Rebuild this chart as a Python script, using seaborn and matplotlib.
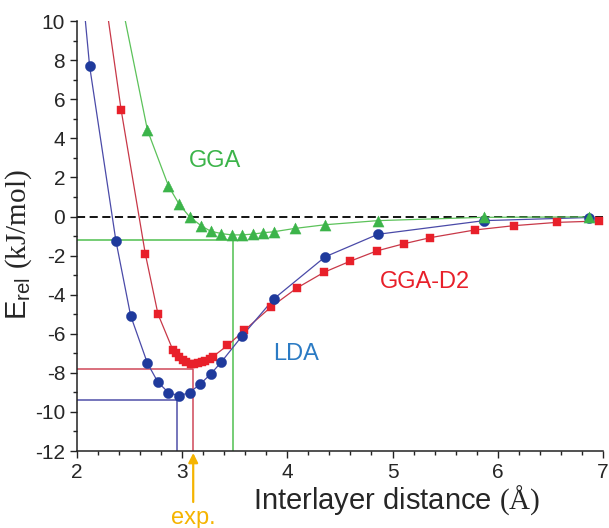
# Binding energy curves vs interlayer distance (LDA / GGA / GGA-D2)
import numpy as np
import pandas as pd
import matplotlib
matplotlib.use("Agg")
import matplotlib.pyplot as plt
import seaborn as sns

sns.set_style("ticks")
plt.rcParams['font.family'] = ['Liberation Sans', 'DejaVu Sans']
plt.rcParams['mathtext.fontset'] = 'custom'
plt.rcParams['mathtext.rm'] = 'Liberation Serif'
plt.rcParams['mathtext.sf'] = 'Liberation Sans'
plt.rcParams['axes.unicode_minus'] = False

# LDA points (blue circles)
lda_x = [2.12, 2.37, 2.51, 2.67, 2.77, 2.87, 2.97, 3.07, 3.17, 3.27, 3.37,
         3.57, 3.87, 4.36, 4.86, 5.87, 6.87]
lda_y = [7.70, -1.24, -5.07, -7.51, -8.48, -9.01, -9.17, -9.01, -8.58, -8.07,
         -7.46, -6.11, -4.22, -2.06, -0.91, -0.21, -0.05]

# GGA points (green triangles)
gga_x = [2.67, 2.87, 2.97, 3.07, 3.18, 3.27, 3.37, 3.47, 3.57, 3.67, 3.77,
         3.87, 4.07, 4.36, 4.86, 5.87, 6.87]
gga_y = [4.42, 1.56, 0.64, -0.01, -0.47, -0.75, -0.87, -0.94, -0.94, -0.90,
         -0.83, -0.78, -0.61, -0.42, -0.21, -0.04, -0.02]

# GGA-D2 points (red squares)
d2_x = [2.42, 2.65, 2.77, 2.91, 2.94, 2.97, 3.005, 3.04, 3.08, 3.115, 3.15,
        3.19, 3.22, 3.26, 3.29, 3.43, 3.59, 3.84, 4.09, 4.35, 4.60, 4.85,
        5.11, 5.36, 5.78, 6.15, 6.56, 6.96]
d2_y = [5.45, -1.92, -4.99, -6.81, -6.99, -7.17, -7.34, -7.46, -7.54, -7.56,
        -7.52, -7.46, -7.38, -7.28, -7.18, -6.60, -5.83, -4.65, -3.66, -2.85,
        -2.28, -1.76, -1.39, -1.08, -0.69, -0.47, -0.30, -0.23]

# where each fitted curve leaves the top of the frame
lda_top = (2.08, 10.0)
d2_top = (2.30, 10.0)
gga_top = (2.46, 10.0)

# equilibrium (minimum) markers: distance, energy
lda_min = (2.95, -9.39)
d2_min = (3.105, -7.80)
gga_min = (3.483, -1.20)
exp_x = 3.105

df_lda = pd.DataFrame({'d': lda_x, 'E': lda_y})
df_gga = pd.DataFrame({'d': gga_x, 'E': gga_y})
df_d2 = pd.DataFrame({'d': d2_x, 'E': d2_y})

c_lda_m, c_lda_l, c_lda_t = '#1f3a9c', '#4a4aa8', '#2b7bc4'
c_d2_m, c_d2_l = '#e8202a', '#c83848'
c_gga_m, c_gga_l = '#3cb44a', '#5cc25a'

fig, ax = plt.subplots(figsize=(6.09, 5.28), dpi=100)
fig.subplots_adjust(left=0.1264, right=0.990, bottom=0.1458, top=0.960)

# zero line
ax.axhline(0, color='black', lw=1.3, ls=(0, (4.5, 2.5)), zorder=1)

# minimum guide lines
for (mx, my), col in [(lda_min, '#5050a8'), (d2_min, '#d04858'), (gga_min, '#50c050')]:
    ax.plot([2, mx, mx], [my, my, -12], color=col, lw=1.1, zorder=2)

# curves
for df, top, col in [(df_d2, d2_top, c_d2_l), (df_lda, lda_top, c_lda_l), (df_gga, gga_top, c_gga_l)]:
    curve = pd.concat([pd.DataFrame({'d': [top[0]], 'E': [top[1]]}), df])
    sns.lineplot(data=curve, x='d', y='E', color=col, lw=0.9, ax=ax, zorder=3)

# markers
sns.scatterplot(data=df_d2, x='d', y='E', marker='s', s=40, color=c_d2_m,
                edgecolor=c_d2_m, linewidth=0.3, ax=ax, zorder=4)
sns.scatterplot(data=df_lda, x='d', y='E', marker='o', s=54, color=c_lda_m,
                edgecolor=c_lda_m, linewidth=0.3, ax=ax, zorder=5)
sns.scatterplot(data=df_gga, x='d', y='E', marker='^', s=64, color=c_gga_m,
                edgecolor=c_gga_m, linewidth=0.3, ax=ax, zorder=6)

# series labels
ax.text(3.31, 2.84, 'GGA', color=c_gga_m, fontsize=17, ha='center', va='center')
ax.text(5.31, -3.35, 'GGA-D2', color=c_d2_m, fontsize=17, ha='center', va='center')
ax.text(4.08, -7.02, 'LDA', color=c_lda_t, fontsize=17, ha='center', va='center')

# experimental value arrow
ax.annotate('exp.', xy=(exp_x, -12.1), xycoords='data',
            xytext=(exp_x, -0.155), textcoords=('data', 'axes fraction'),
            ha='center', va='center', color='#f5b400', fontsize=17,
            arrowprops=dict(arrowstyle='-|>', color='#f5b400', lw=1.6,
                            mutation_scale=14, shrinkA=1, shrinkB=0),
            annotation_clip=False)

ax.set_xlim(2, 7)
ax.set_ylim(-12, 10)
ax.set_xticks(np.arange(2, 8, 1))
ax.set_xticks(np.arange(2, 7.01, 0.2), minor=True)
ax.set_yticks(np.arange(-12, 11, 2))
ax.set_yticks(np.arange(-12, 11, 1), minor=True)
ax.tick_params(which='major', direction='out', length=5, width=1, labelsize=15, color='#222222')
ax.tick_params(which='minor', direction='out', length=3.2, width=1, color='#222222')
for s in ['left', 'bottom']:
    ax.spines[s].set_linewidth(1.1)
    ax.spines[s].set_color('#222222')
sns.despine(ax=ax)

ax.set_xlabel(r'Interlayer distance $\mathrm{(Å)}$', fontsize=21)
ax.xaxis.set_label_coords(0.607, -0.076)
ax.set_ylabel(r'E$_{\mathsf{rel}}$ $\mathrm{(kJ/mol)}$', fontsize=21)
ax.yaxis.set_label_coords(-0.082, 0.479)

fig.savefig('out.png', dpi=100)
